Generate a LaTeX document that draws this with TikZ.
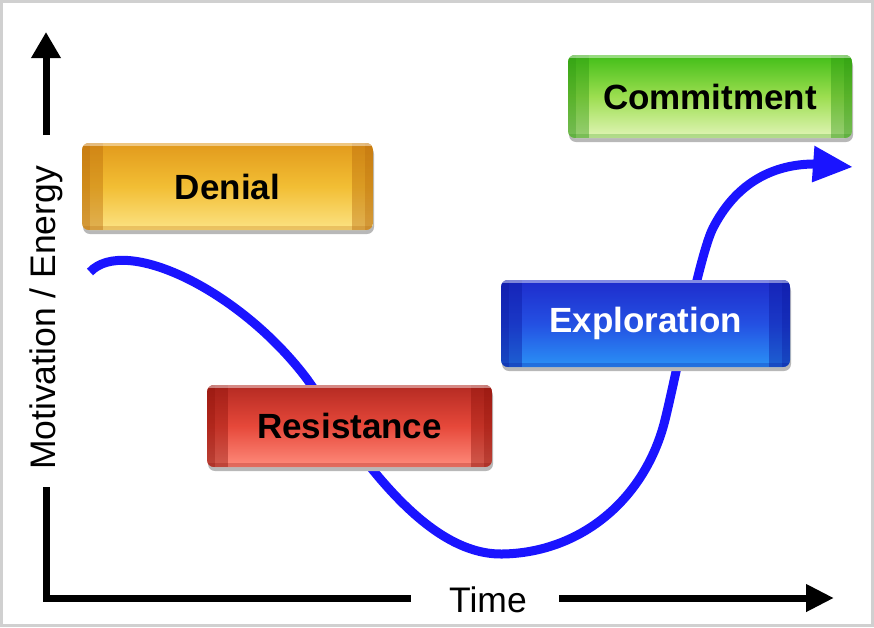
\documentclass[tikz,border=0pt]{standalone}
\usepackage{fontspec}
\setmainfont{Liberation Sans}
\usetikzlibrary{arrows.meta}
\definecolor{framegray}{HTML}{D0D0D0}
\definecolor{flowblue}{HTML}{1A14FF}
\definecolor{denialtop}{HTML}{E29A1C}
\definecolor{denialmid}{HTML}{F2BE34}
\definecolor{denialbot}{HTML}{FCE384}
\definecolor{denialside}{HTML}{B8680A}
\definecolor{committop}{HTML}{42BE18}
\definecolor{commitmid}{HTML}{9CDE50}
\definecolor{commitbot}{HTML}{E2F5B8}
\definecolor{commitside}{HTML}{2A9410}
\definecolor{exploretop}{HTML}{1E2CCC}
\definecolor{exploremid}{HTML}{2450E2}
\definecolor{explorebot}{HTML}{2A92F6}
\definecolor{exploreside}{HTML}{0A169C}
\definecolor{resisttop}{HTML}{B42A22}
\definecolor{resistmid}{HTML}{E6483A}
\definecolor{resistbot}{HTML}{FF8C7C}
\definecolor{resistside}{HTML}{8C1008}
\begin{document}
\begin{tikzpicture}[x=1pt,y=-1pt,
  axis/.style={line width=7pt,line join=miter},
  curve/.style={line width=9pt,draw=flowblue},
  stage/.style={font=\fontsize{35}{42}\selectfont\bfseries,inner sep=0pt},
  axislabel/.style={font=\fontsize{35.5}{40}\selectfont,inner sep=0pt}]
  \useasboundingbox (0,0) rectangle (874,627);
  \path[draw=framegray,line width=3pt] (1.5,1.5) rectangle (872.5,625.5);
  \coordinate (ytip) at (46,32);
  \coordinate (ystop) at (46,135);
  \coordinate (ystart) at (46,487);
  \coordinate (xstop) at (411,598);
  \coordinate (xstart) at (559,598);
  \coordinate (xtip) at (834,598);
  \coordinate (start) at (90,272);
  \coordinate (low) at (502,554);
  \coordinate (tip) at (853,167);
  \path (55,318) node[axislabel,rotate=90,anchor=base] (energy) {Motivation / Energy};
  \path (488,600) node[axislabel] (time) {Time};
  \draw[axis,-{Triangle[length=26pt,width=28pt]}] (ystop) -- (ytip);
  \draw[axis] (ystart) |- (xstop);
  \draw[axis,-{Triangle[length=28pt,width=26pt]}] (xstart) -- (xtip);
  \draw[curve,-{Triangle[length=40pt,width=34pt]}] (start)
    .. controls (125,235) and (240,290) .. (307,379)
    .. controls (350,440) and (420,555) .. (low)
    .. controls (580,553) and (645,500) .. (665,420)
    .. controls (675,380) and (700,253) .. (713,228)
    .. controls (735,185) and (770,165) .. (812,164) -- (tip);
  \foreach \nm/\xa/\ya/\xb/\yb/\txt/\ink in
    {denial/82/143/373/230/Denial/black,
     commit/568/55/852/138/Commitment/black,
     explore/501/280/790/367/Exploration/white,
     resist/207/385/492/467/Resistance/black}{
    \path[fill=black!28,rounded corners=7pt] (\xa+1,\ya+4) rectangle (\xb+1,\yb+4);
    \path[rounded corners=7pt,top color=\nm top,bottom color=\nm bot,middle color=\nm mid]
      (\xa,\ya) rectangle (\xb,\yb);
    \begin{scope}
      \clip[rounded corners=7pt] (\xa,\ya) rectangle (\xb,\yb);
      \path[fill=\nm side,fill opacity=.4] (\xa,\ya) rectangle (\xa+21,\yb);
      \path[fill=\nm side,fill opacity=.3] (\xa,\ya) rectangle (\xa+8,\yb);
      \path[fill=\nm side,fill opacity=.4] (\xb-21,\ya) rectangle (\xb,\yb);
      \path[fill=\nm side,fill opacity=.3] (\xb-8,\ya) rectangle (\xb,\yb);
      \path[fill=white,fill opacity=.45] (\xa,\ya) rectangle (\xb,\ya+3);
      \path[fill=\nm side,fill opacity=.25] (\xa,\yb-4) rectangle (\xb,\yb);
    \end{scope}
    \path ({(\xa+\xb)/2},{(\ya+\yb)/2}) node[stage,text=\ink] (\nm) {\txt};
  }
\end{tikzpicture}
\end{document}
